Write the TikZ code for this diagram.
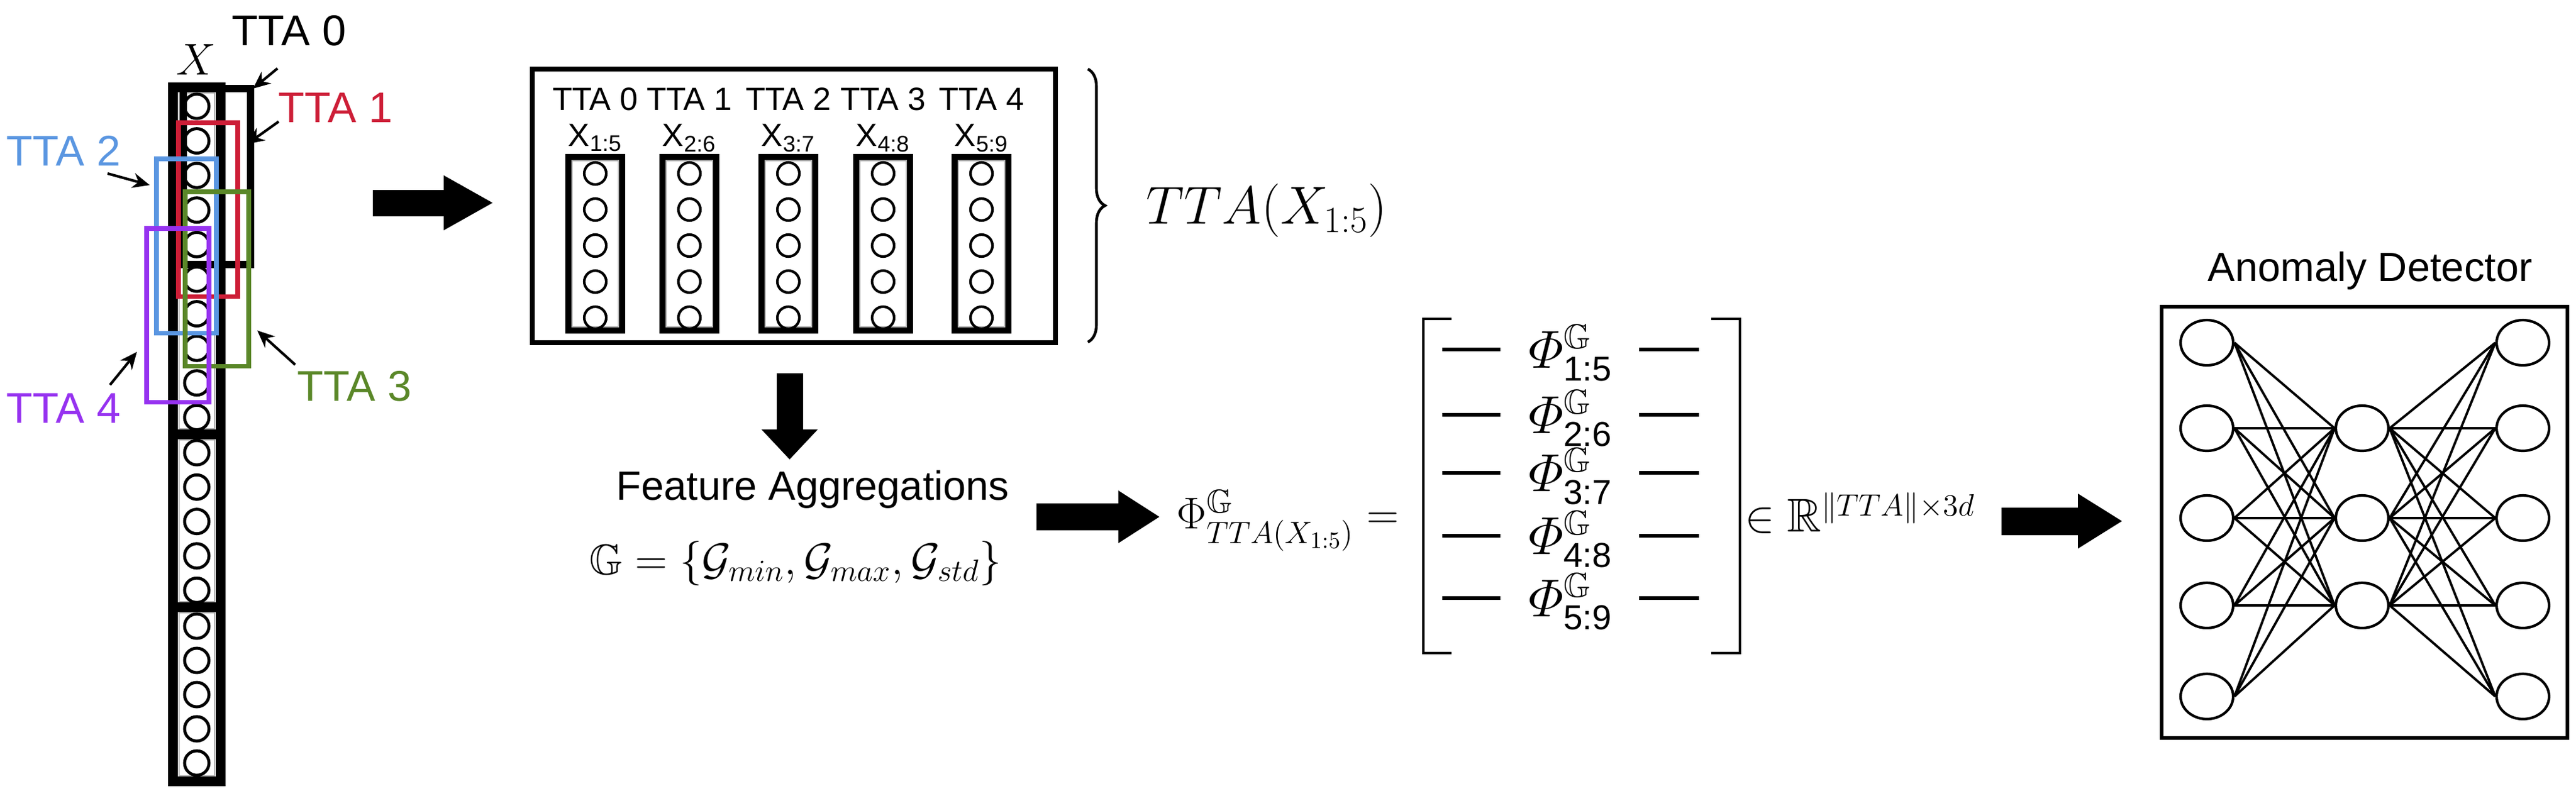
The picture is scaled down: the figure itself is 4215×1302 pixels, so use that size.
\documentclass[tikz,border=0pt]{standalone}
\usepackage{amsmath,amssymb}
\usepackage{fontspec}
\setmainfont{Liberation Sans}
\usetikzlibrary{arrows.meta,decorations.pathreplacing,shapes.geometric}
\definecolor{cred}{RGB}{205,30,55}
\definecolor{cblue}{RGB}{90,150,225}
\definecolor{cgreen}{RGB}{90,135,40}
\definecolor{cpurp}{RGB}{150,50,240}
\newcommand{\fs}[1]{\fontsize{#1}{#1}\selectfont}
\newlength{\pxu}\setlength{\pxu}{0.01cm}
\tikzset{
  cell/.style={circle,draw,line width=1.4pt,minimum size=40\pxu,inner sep=0pt},
  seg/.style={draw,line width=4.5pt},
  win/.style={draw,line width=2pt},
  lab/.style={inner sep=0pt,font=\fs{20pt}},
  small/.style={-{Stealth[length=8pt,width=7pt]},line width=1.2pt},
  blk/.style={fill=black},
  nn/.style={ellipse,draw,line width=1.2pt,minimum width=86\pxu,minimum height=74\pxu,inner sep=0pt},
  ed/.style={line width=1.1pt},
}
\begin{document}
\begin{tikzpicture}[x=0.01cm,y=-0.01cm]
\useasboundingbox (0,0) rectangle (4215,1302);
% ---- input column X
\node[inner sep=0pt,font=\fs{21pt}] (X) at (321,98) {$X$};
\draw[seg] (283,143) rectangle (361,711);
\draw[seg] (283,711) rectangle (361,994);
\draw[seg] (283,994) rectangle (361,1279);
\draw[gray!60,line width=0.6pt] (293,152) rectangle (351,702);
\draw[gray!60,line width=0.6pt] (293,720) rectangle (351,985);
\draw[gray!60,line width=0.6pt] (293,1003) rectangle (351,1270);
\foreach \i in {0,...,9} \node[cell] (c\i) at (322,174+56.6*\i) {};
\foreach \i in {0,...,4} \node[cell] (d\i) at (322,741+56.3*\i) {};
\foreach \i in {0,...,4} \node[cell] (e\i) at (322,1025+56*\i) {};
% windows
\draw[win,line width=3.5pt] (300,145) rectangle (410,433);
\draw[win,cred] (292,201) rectangle (389,485);
\draw[win,cblue] (256,260) rectangle (354,545);
\draw[win,cgreen] (303,314) rectangle (407,599);
\draw[win,cpurp] (240,374) rectangle (342,658);
% labels
\node[lab] (t0) at (473,50) {TTA 0};
\node[lab,text=cred] (t1) at (549,176) {TTA 1};
\node[lab,text=cblue] (t2) at (104,247) {TTA 2};
\node[lab,text=cgreen] (t3) at (580,632) {TTA 3};
\node[lab,text=cpurp] (t4) at (104,668) {TTA 4};
\coordinate (a0s) at (454,112); \coordinate (a0e) at (414,145);
\coordinate (a1s) at (456,199); \coordinate (a1e) at (404,236);
\coordinate (a2s) at (176,284); \coordinate (a2e) at (245,303);
\coordinate (a3s) at (483,597); \coordinate (a3e) at (421,541);
\coordinate (a4s) at (180,630); \coordinate (a4e) at (224,576);
\draw[small] (a0s) -- (a0e);
\draw[small] (a1s) -- (a1e);
\draw[small] (a2s) -- (a2e);
\draw[small] (a3s) -- (a3e);
\draw[small] (a4s) -- (a4e);
% big arrow 1
\fill[blk] (610,311) -- (726,311) -- (726,287) -- (806,332) -- (726,377) -- (726,354) -- (610,354) -- cycle;
% ---- TTA box
\node[draw,line width=2.2pt,minimum width=856\pxu,minimum height=448\pxu,inner sep=0pt] (box) at (1299,337) {};
\foreach \n/\x/\lbl/\sub in {0/974/TTA 0/1:5,1/1128/TTA 1/2:6,2/1290/TTA 2/3:7,3/1445/TTA 3/4:8,4/1606/TTA 4/5:9}{
  \node[inner sep=0pt,font=\fs{15pt}] (h\n) at (\x,162) {\lbl};
  \node[inner sep=0pt,font=\fs{15pt}] (x\n) at (\x,226) {X\textsubscript{\sub}};
  \draw[line width=3pt] (\x-44,257) rectangle (\x+44,541);
  \draw[gray!60,line width=0.5pt] (\x-38,263) rectangle (\x+38,535);
  \foreach \k in {0,...,4} \node[cell,minimum size=36\pxu,line width=1.2pt] (s\n\k) at (\x,284+59*\k) {};
}
\draw[line width=1.3pt,decorate,decoration={brace,amplitude=28\pxu}] (1780,113) -- (1780,560);
\node[inner sep=0pt,font=\fs{23pt},anchor=west] (ttax) at (1875,345) {$TTA(X_{1:5})$};
% down arrow
\fill[blk] (1271,611) -- (1314,611) -- (1314,703) -- (1338,703) -- (1292,752) -- (1246,703) -- (1271,703) -- cycle;
\node[inner sep=0pt,font=\fs{19pt}] (fa) at (1330,801) {Feature Aggregations};
\node[inner sep=0pt,font=\fs{20pt}] (gset) at (1302,922) {$\mathbb{G}=\{\mathcal{G}_{min},\mathcal{G}_{max},\mathcal{G}_{std}\}$};
% arrow 2
\fill[blk] (1696,824) -- (1830,824) -- (1830,803) -- (1897,846) -- (1830,889) -- (1830,868) -- (1696,868) -- cycle;
\node[inner sep=0pt,font=\fs{22pt},anchor=west] (phi) at (1925,852) {$\Phi^{\mathbb{G}}_{TTA(X_{1:5})}=$};
% matrix
\draw[line width=1.3pt] (2375,522) -- (2329,522) -- (2329,1069) -- (2375,1069);
\draw[line width=1.3pt] (2800,522) -- (2847,522) -- (2847,1069) -- (2800,1069);
\foreach \r/\y/\sub in {0/572/1:5,1/679/2:6,2/774/3:7,3/877/4:8,4/979/5:9}{
  \node[inner sep=0pt,font=\fs{23pt}] (m\r) at (2570,\y+6) {$\varPhi^{\mathbb{G}}_{\text{\sub}}$};
  \draw[line width=1.6pt] (2360,\y) -- (2455,\y);
  \draw[line width=1.6pt] (2682,\y) -- (2780,\y);
}
\node[inner sep=0pt,font=\fs{22pt},anchor=west] (inr) at (2855,840) {$\in\mathbb{R}^{\|TTA\|\times 3d}$};
% arrow 3
\fill[blk] (3275,831) -- (3400,831) -- (3400,808) -- (3472,853) -- (3400,898) -- (3400,876) -- (3275,876) -- cycle;
% ---- anomaly detector
\node[inner sep=0pt,font=\fs{19pt}] (adt) at (3878,443) {Anomaly Detector};
\draw[line width=1.6pt] (3537,502) rectangle (4201,1208);
\foreach \i/\y in {0/561,1/701,2/848,3/991,4/1140}{
  \node[nn] (L\i) at (3611,\y) {};
  \node[nn] (R\i) at (4128,\y) {};
}
\foreach \j/\y in {0/701,1/848,2/991} \node[nn] (M\j) at (3865,\y) {};
\foreach \i in {0,...,4}\foreach \j in {0,1,2}{
  \draw[ed] (L\i.east) -- (M\j.west);
  \draw[ed] (M\j.east) -- (R\i.west);
}
\end{tikzpicture}
\end{document}
